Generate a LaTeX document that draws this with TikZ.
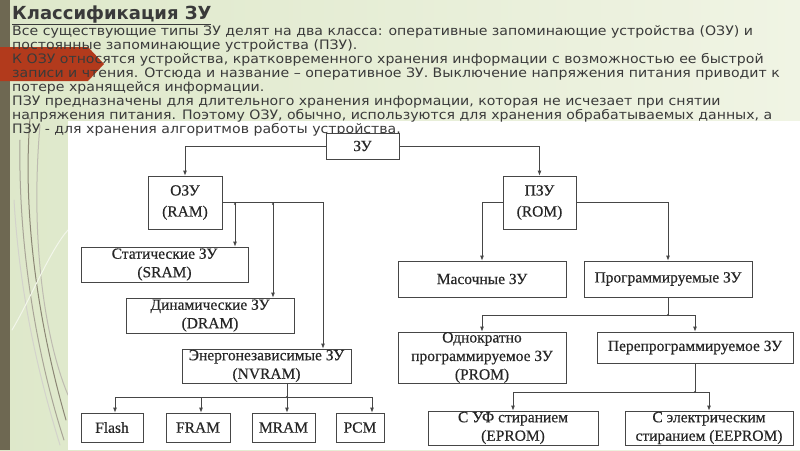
\documentclass[tikz,border=0pt]{standalone}
\usepackage{fontspec}
\setmainfont{DejaVu Sans}
\newfontfamily\slidefont[FakeStretch=1.085]{DejaVu Sans}
\newfontfamily\chartfont[FakeBold=0.4]{Liberation Serif}
\usetikzlibrary{arrows.meta}
\definecolor{slidegreen}{RGB}{222,232,202}
\definecolor{slidelight}{RGB}{240,244,228}
\definecolor{stripe}{RGB}{110,104,82}
\definecolor{tabred}{RGB}{178,58,28}
\definecolor{bodytext}{RGB}{58,58,58}
\definecolor{chartline}{RGB}{70,70,70}
\tikzset{
  box/.style={draw=chartline,line width=.8pt,fill=white,align=center,inner sep=0pt,
    font=\chartfont\fontsize{15.5}{18.5}\selectfont,text=black!85},
  link/.style={draw=chartline,line width=.8pt},
  arr/.style={link,-{Latex[length=5pt,width=4pt]}},
  stem/.style={line width=1pt,line cap=round}
}

\begin{document}
\begin{tikzpicture}[x=1pt,y=-1pt]
\useasboundingbox (0,0) rectangle (800,450);
% slide
\shade[left color=slidegreen,right color=slidelight] (0,0) rectangle (800,450);
\fill[stripe] (0,0) rectangle (10,450);
\fill[tabred] (0,47) -- (88,47) -- (104,64) -- (88,81) -- (0,81) -- cycle;
\draw[stem,stripe!80] (30,118) .. controls (22,220) and (40,330) .. (66,420);
\draw[stem,stripe!60] (20,140) .. controls (18,250) and (38,360) .. (64,440);
\draw[stem,stripe!45] (40,125) .. controls (30,240) and (45,340) .. (68,395);
\draw[stem,stripe!30] (14,200) .. controls (20,300) and (40,380) .. (60,445);
\draw[stem,white!60!slidegreen] (12,330) .. controls (30,300) and (50,250) .. (68,230);
\fill[white] (68,121) rectangle (800,450);
% text
\node[anchor=base west,inner sep=0pt,text=bodytext,font=\bfseries\fontsize{18}{20}\selectfont] (title) at (12,19) {\underline{Классификация ЗУ}};
\node[anchor=north west,inner sep=0pt,align=left,text=bodytext,font=\slidefont\fontsize{13}{14}\selectfont] (body) at (12,25)
  {Все существующие типы ЗУ делят на два класса: оперативные запоминающие устройства (ОЗУ) и\\
   постоянные запоминающие устройства (ПЗУ).\\
   К ОЗУ относятся устройства, кратковременного хранения информации с возможностью ее быстрой\\
   записи и чтения. Отсюда и название – оперативное ЗУ. Выключение напряжения питания приводит к\\
   потере хранящейся информации.\\
   ПЗУ предназначены для длительного хранения информации, которая не исчезает при снятии\\
   напряжения питания. Поэтому ОЗУ, обычно, используются для хранения обрабатываемых данных, а\\
   ПЗУ - для хранения алгоритмов работы устройства.};
% boxes
\node[box,minimum width=73pt,minimum height=26pt] (zu) at (362.5,146) {ЗУ};
\node[box,minimum width=74pt,minimum height=53pt,font=\chartfont\fontsize{15.5}{21}\selectfont] (ozu) at (185,202.5) {ОЗУ\\(RAM)};
\node[box,minimum width=167pt,minimum height=35pt] (sram) at (164.5,264.5) {Статические ЗУ\\(SRAM)};
\node[box,minimum width=168pt,minimum height=35pt] (dram) at (210,315.5) {Динамические ЗУ\\(DRAM)};
\node[box,minimum width=169pt,minimum height=34pt] (nvram) at (266.5,366) {Энергонезависимые ЗУ\\(NVRAM)};
\node[box,minimum width=62pt,minimum height=29pt] (flash) at (112,427.5) {Flash};
\node[box,minimum width=64pt,minimum height=29pt] (fram) at (198,427.5) {FRAM};
\node[box,minimum width=63pt,minimum height=29pt] (mram) at (283.5,427.5) {MRAM};
\node[box,minimum width=48pt,minimum height=29pt] (pcm) at (360,427.5) {PCM};
\node[box,minimum width=73pt,minimum height=53pt,font=\chartfont\fontsize{15.5}{21}\selectfont] (pzu) at (539.5,202.5) {ПЗУ\\(ROM)};
\node[box,minimum width=168pt,minimum height=36pt] (mask) at (482,279) {Масочные ЗУ};
\node[box,minimum width=168pt,minimum height=36pt] (prog) at (668,279) {Программируемые ЗУ};
\node[box,minimum width=168pt,minimum height=51pt] (prom) at (482,357.5) {Однократно\\программируемое ЗУ\\(PROM)};
\node[box,minimum width=196pt,minimum height=31pt] (reprog) at (695,347.5) {Перепрограммируемое ЗУ};
\node[box,minimum width=170pt,minimum height=34pt] (eprom) at (513,428) {С УФ стиранием\\(EPROM)};
\node[box,minimum width=168pt,minimum height=34pt] (eeprom) at (709,428) {С электрическим\\стиранием (EEPROM)};
% connectors
\draw[arr] (zu.west) -| (ozu.north);
\draw[arr] (zu.east) -| (pzu.north);
\draw[arr] (ozu.east) -- (323,0 |- ozu.east) -- (323,0 |- nvram.north);
\draw[arr] (235,0 |- ozu.east) -- (235,0 |- sram.north);
\draw[arr] (273,0 |- ozu.east) -- (273,0 |- dram.north);
\draw[link] (287,0 |- nvram.south) -- (287,397) coordinate (nvbus);
\draw[link] (115,397) -- (372,397);
\foreach \x/\n in {115/flash,201/fram,287/mram,372/pcm}
  \draw[arr] (\x,397) -- (\x,0 |- \n.north);
\draw[arr] (pzu.west) -| (mask.north);
\draw[arr] (pzu.east) -| (prog.north);
\draw[link] (prog.south) -- (prog.south |- 0,315) coordinate (progbus);
\draw[arr] (progbus) -| (prom.north);
\draw[arr] (progbus) -| (reprog.north);
\draw[link] (reprog.south) -- (reprog.south |- 0,392) coordinate (reprogbus);
\draw[arr] (reprogbus) -| (eprom.north);
\draw[arr] (reprogbus) -| (eeprom.north);
\foreach \p in {(235,204),(273,204),(287,397),(progbus),(reprogbus)}
  \fill[chartline] \p circle (1.2pt);
\end{tikzpicture}
\end{document}
